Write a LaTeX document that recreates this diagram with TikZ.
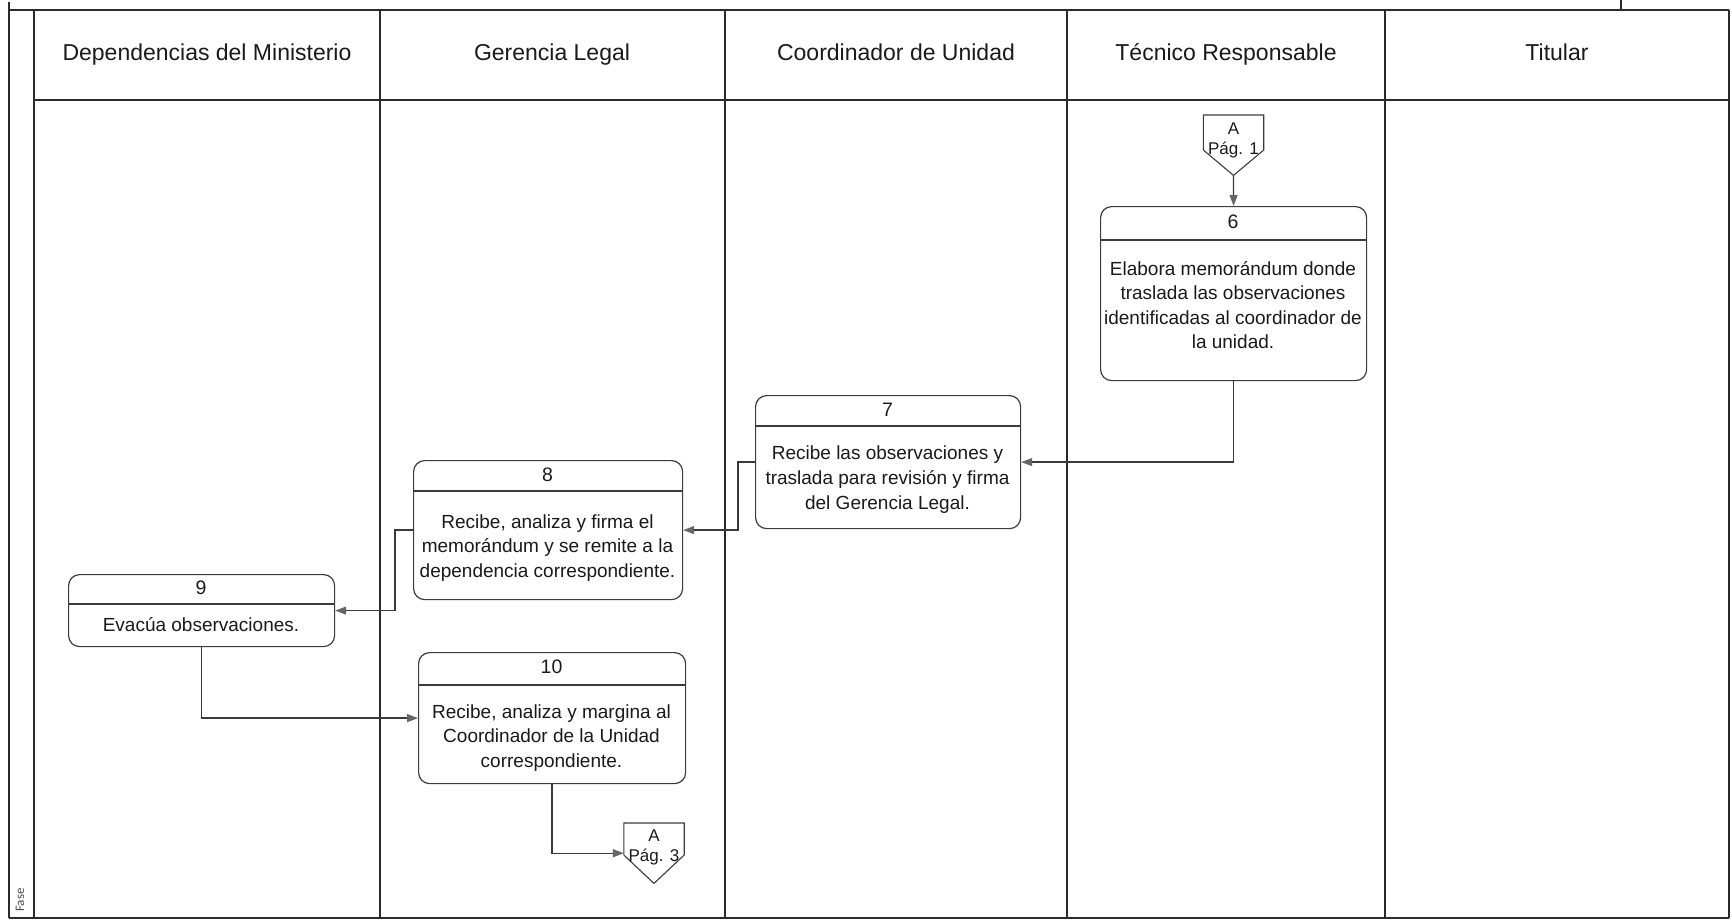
\documentclass[tikz,border=0pt]{standalone}
\usepackage{fontspec}
\setmainfont{Liberation Sans}
\newfontfamily\fasefont{Carlito}
\usetikzlibrary{arrows.meta,calc}

\definecolor{frameline}{HTML}{2B2B2B}
\definecolor{boxline}{HTML}{3C3C3C}
\definecolor{flowline}{HTML}{3A3A3A}
\definecolor{tipgray}{HTML}{666666}
\definecolor{inktext}{HTML}{1A1A1A}

\begin{document}
\begin{tikzpicture}[x=1pt,y=-1pt,
  frame/.style={draw=frameline, line width=1.4pt},
  lanehead/.style={font=\fontsize{23}{27}\selectfont, text=inktext, inner sep=0pt, anchor=base},
  stepbox/.style={draw=boxline, line width=1.2pt, rounded corners=11pt, anchor=north west, inner sep=0pt},
  sepline/.style={draw=boxline, line width=1.1pt},
  stepnum/.style={font=\fontsize{19.5}{24}\selectfont, text=inktext, inner sep=0pt},
  steptext/.style={font=\fontsize{19}{24.6}\selectfont, text=inktext, align=center, inner sep=0pt},
  offpage/.style={minimum width=60pt, minimum height=60pt, inner sep=0pt, anchor=north},
  offtext/.style={font=\fontsize{17}{20}\selectfont, text=inktext, align=center, inner sep=0pt},
  flow/.style={draw=flowline, line width=1.3pt, -{Triangle[length=11pt,width=8pt,color=tipgray,fill=tipgray]}},
]
\fill[white] (0,0) rectangle (1732,922);
\useasboundingbox (0,0) rectangle (1732,922);

% swimlane frame
\draw[frame] (9,10) -- (1729,10);
\draw[frame] (34,100) -- (1729,100);
\draw[frame] (9,918) -- (1729,918);
\draw[frame] (9,2) -- (9,918);
\draw[frame] (34,10) -- (34,918);
\draw[frame] (1729,10) -- (1729,918);
\foreach \lx in {380,725,1067,1385}
  \draw[frame] (\lx,10) -- (\lx,918);
\draw[frame] (1621,0) -- (1621,10);

% lane titles
\node[lanehead] (h1) at (207,60) {Dependencias del Ministerio};
\node[lanehead] (h2) at (552,60) {Gerencia Legal};
\node[lanehead] (h3) at (896,60) {Coordinador de Unidad};
\node[lanehead] (h4) at (1226,60) {Técnico Responsable};
\node[lanehead] (h5) at (1557,60) {Titular};

\node[rotate=90, font=\fasefont\fontsize{13}{15}\selectfont, text=black!70, inner sep=0pt] (fase) at (20,900) {Fase};

% off-page connector, incoming
\node[offpage] (ca1) at (1233.5,115) {};
\draw[boxline, line width=1.1pt] (ca1.north west) -- (ca1.north east) -- ($(ca1.north east)+(0,35)$) -- (ca1.south) -- ($(ca1.north west)+(0,35)$) -- cycle;
\node[offtext] (ca1t) at (1233.5,140) {A\\Pág. 1};

% step 6
\node[stepbox, minimum width=266pt, minimum height=174pt] (b6) at (1100,206) {};
\draw[sepline] ($(b6.north west)+(0,34)$) -- ($(b6.north east)+(0,34)$);
\node[stepnum] (n6) at (1233,222) {6};
\node[steptext] (t6) at (1233,305) {Elabora memorándum donde\\traslada las observaciones\\identificadas al coordinador de\\la unidad.};

% step 7
\node[stepbox, minimum width=265pt, minimum height=133pt] (b7) at (755,395) {};
\draw[sepline] ($(b7.north west)+(0,31)$) -- ($(b7.north east)+(0,31)$);
\node[stepnum] (n7) at (887.5,410) {7};
\node[steptext] (t7) at (887.5,479.5) {Recibe las observaciones y\\traslada para revisión y firma\\del Gerencia Legal.};

% step 8
\node[stepbox, minimum width=269pt, minimum height=139pt] (b8) at (413,460) {};
\draw[sepline] ($(b8.north west)+(0,31)$) -- ($(b8.north east)+(0,31)$);
\node[stepnum] (n8) at (547.5,475) {8};
\node[steptext] (t8) at (547.5,548) {Recibe, analiza y firma el\\memorándum y se remite a la\\dependencia correspondiente.};

% step 9
\node[stepbox, minimum width=266pt, minimum height=72pt] (b9) at (68,574) {};
\draw[sepline] ($(b9.north west)+(0,30)$) -- ($(b9.north east)+(0,30)$);
\node[stepnum] (n9) at (201,588) {9};
\node[steptext] (t9) at (201,625) {Evacúa observaciones.};

% step 10
\node[stepbox, minimum width=267pt, minimum height=131pt] (b10) at (418,652) {};
\draw[sepline] ($(b10.north west)+(0,33)$) -- ($(b10.north east)+(0,33)$);
\node[stepnum] (n10) at (551.5,667) {10};
\node[steptext] (t10) at (551.5,738) {Recibe, analiza y margina al\\Coordinador de la Unidad\\correspondiente.};

% off-page connector, outgoing
\node[offpage] (ca3) at (654,823) {};
\draw[boxline, line width=1.1pt] (ca3.north west) -- (ca3.north east) -- ($(ca3.north east)+(0,32)$) -- (ca3.south) -- ($(ca3.north west)+(0,32)$) -- cycle;
\node[offtext] (ca3t) at (654,847) {A\\Pág. 3};

% flow
\draw[flow] (ca1.south) -- (b6.north);
\draw[flow] (b6.south) |- (b7.east);
\draw[flow] (b7.west) -- ++(-17,0) |- (b8.east);
\draw[flow] (b8.west) -- ++(-18,0) |- (b9.east);
\draw[flow] (b9.south) |- (b10.west);
\draw[flow] (b10.south) |- (ca3.west);
\end{tikzpicture}
\end{document}
